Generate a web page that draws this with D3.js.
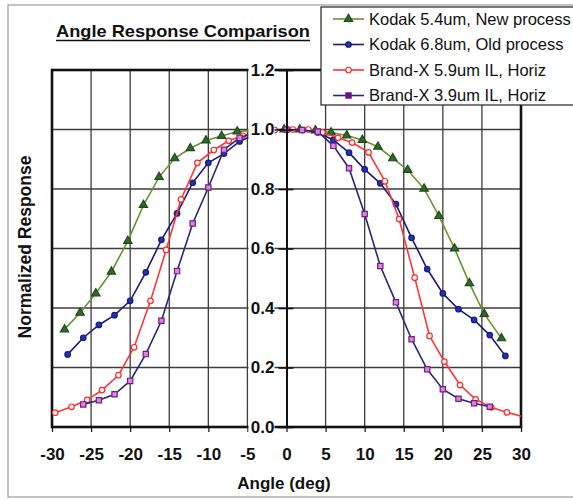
<!DOCTYPE html>
<html>
<head>
<meta charset="utf-8">
<script src="https://cdn.jsdelivr.net/npm/d3@7"></script>
<style>
body { margin: 0; background: #fff; }
text { font-family: Arial, "Liberation Sans", sans-serif; }
</style>
</head>
<body>
<svg id="chart"></svg>
<script>
// tick values
const angleTicks = [-30, -25, -20, -15, -10, -5, 0, 5, 10, 15, 20, 25, 30];
const respTicks = [0, 0.2, 0.4, 0.6, 0.8, 1.0, 1.2];

// Kodak 5.4um, New process
const kodak54Angle = [-28.4, -26.4, -24.4, -22.4, -20.3, -18.3, -16.3, -14.3, -12.3, -10.3, -8.3, -6.3, -4.3, -2.3, -0.3,
    1.7, 3.7, 5.7, 7.7, 9.7, 11.7, 13.6, 15.5, 17.6, 19.5, 21.5, 23.4, 25.3, 27.5];
const kodak54Resp = [0.328, 0.384, 0.449, 0.522, 0.625, 0.746, 0.840, 0.903, 0.937, 0.963, 0.978, 0.993, 0.998, 1.0, 1.0,
    1.0, 0.997, 0.99, 0.98, 0.965, 0.942, 0.903, 0.864, 0.801, 0.709, 0.600, 0.483, 0.380, 0.298];

// Kodak 6.8um, Old process
const kodak68Angle = [-28, -26, -24, -22, -20, -18, -16, -14, -12, -10, -8, -6, -4, -2, 0,
    2, 4, 6, 8, 10, 12, 14, 16, 18, 20, 22, 24, 26, 28];
const kodak68Resp = [0.244, 0.300, 0.343, 0.376, 0.424, 0.520, 0.629, 0.718, 0.821, 0.888, 0.919, 0.960, 0.984, 0.997, 1.0,
    0.998, 0.990, 0.965, 0.922, 0.866, 0.819, 0.749, 0.636, 0.531, 0.449, 0.396, 0.360, 0.309, 0.239];

// Brand-X 5.9um IL, Horiz
const brandX59Angle = [-29.6, -27.5, -25.5, -23.6, -21.5, -19.5, -17.4, -15.4, -13.5, -11.4, -9.3, -7.4, -5.6, -3.5, -1.5,
    0.8, 2.8, 4.6, 6.6, 8.4, 10.5, 12.6, 14.4, 16.4, 18.3, 20.2, 22.2, 24.2, 26.2, 28.2, 30.4];
const brandX59Resp = [0.048, 0.068, 0.091, 0.124, 0.174, 0.268, 0.424, 0.595, 0.765, 0.888, 0.931, 0.962, 0.979, 0.990, 0.998,
    1.0, 1.0, 0.99, 0.972, 0.956, 0.923, 0.826, 0.699, 0.502, 0.306, 0.220, 0.141, 0.093, 0.066, 0.049, 0.034];

// Brand-X 3.9um IL, Horiz
const brandX39Angle = [-26, -24, -22, -20, -18, -16, -14, -12, -10, -8, -6, -4, -2, 0,
    2, 4, 6, 8, 10, 12, 14, 16, 18, 20, 22, 24, 26];
const brandX39Resp = [0.076, 0.090, 0.110, 0.155, 0.245, 0.357, 0.524, 0.684, 0.805, 0.932, 0.972, 0.990, 0.998, 1.0,
    0.998, 0.993, 0.945, 0.870, 0.716, 0.541, 0.419, 0.295, 0.194, 0.127, 0.095, 0.080, 0.068];

const seriesNames = ["Kodak 5.4um, New process", "Kodak 6.8um, Old process", "Brand-X 5.9um IL, Horiz", "Brand-X 3.9um IL, Horiz"];

const W = 573, H = 499;
const plotL = 52, plotR = 521, plotT = 70, plotB = 427;

const series = [
    {name: seriesNames[0], ang: kodak54Angle, val: kodak54Resp, line: "#6a9431", sym: d3.symbolTriangle, size: 30, fill: "#2f6a2a", stroke: "#1f4a1c"},
    {name: seriesNames[1], ang: kodak68Angle, val: kodak68Resp, line: "#1c1c78", sym: d3.symbolCircle, size: 24, fill: "#1f33b8", stroke: "#1c1c78"},
    {name: seriesNames[2], ang: brandX59Angle, val: brandX59Resp, line: "#ff3535", sym: d3.symbolCircle, size: 24, fill: "#fff", stroke: "#ff2a2a"},
    {name: seriesNames[3], ang: brandX39Angle, val: brandX39Resp, line: "#28287a", sym: d3.symbolSquare, size: 28, fill: "#d68ad6", stroke: "#7a1a86"}
];

const svg = d3.select("#chart").attr("width", W).attr("height", H);

// outer frame (scanned page edge)
svg.append("rect").attr("x", 8).attr("y", 5).attr("width", 620).attr("height", 492)
    .attr("fill", "#fff").attr("stroke", "#9a9a9a").attr("stroke-width", 1.2);

const x = d3.scaleLinear().domain([-30, 30]).range([plotL, plotR]);
const y = d3.scaleLinear().domain([0, 1.2]).range([plotB, plotT]);

// grid
svg.append("g").selectAll("line").data(angleTicks.filter(d => d > -30 && d < 30 && d != 0)).enter()
    .append("line")
    .attr("x1", d => x(d)).attr("x2", d => x(d)).attr("y1", plotT).attr("y2", plotB)
    .attr("stroke", "#3c3c3c").attr("stroke-width", 1.3);
svg.append("g").selectAll("line").data(respTicks.filter(d => d > 0 && d < 1.2)).enter()
    .append("line")
    .attr("x1", plotL).attr("x2", plotR).attr("y1", d => y(d)).attr("y2", d => y(d))
    .attr("stroke", "#3c3c3c").attr("stroke-width", 1.3);

// x axis at the bottom (plain hyphen for negatives, like the original)
let xAxis = svg.append("g").attr("transform", `translate(0,${plotB})`)
    .call(d3.axisBottom(x).tickValues(angleTicks).tickFormat(d => String(d)).tickSize(5).tickSizeOuter(0).tickPadding(16));
xAxis.select(".domain").remove();
xAxis.selectAll("line").attr("stroke", "#222").attr("stroke-width", 1.3);
xAxis.selectAll("text").attr("font-size", "17px").attr("font-weight", "bold").attr("fill", "#111")
    .style("font-family", "Arial, 'Liberation Sans', sans-serif");

// plot border
svg.append("rect").attr("x", plotL).attr("y", plotT).attr("width", plotR - plotL).attr("height", plotB - plotT)
    .attr("fill", "none").attr("stroke", "#111").attr("stroke-width", 2.6);

// series
svg.append("clipPath").attr("id", "plotClip").append("rect")
    .attr("x", plotL).attr("y", plotT - 10).attr("width", plotR - plotL).attr("height", plotB - plotT + 10);

const lineFun = d3.line().x(d => x(d[0])).y(d => y(d[1])).curve(d3.curveLinear);
const plot = svg.append("g").attr("clip-path", "url(#plotClip)");

series.forEach(s => {
    let pts = s.ang.map((a, i) => [a, s.val[i]]);
    plot.append("path")
        .attr("d", lineFun(pts))
        .attr("fill", "none")
        .attr("stroke", s.line)
        .attr("stroke-width", 1.6);
    plot.append("g").selectAll("path").data(pts).enter()
        .append("path")
        .attr("d", d3.symbol().type(s.sym).size(s.size))
        .attr("transform", d => `translate(${x(d[0])},${y(d[1])})`)
        .attr("fill", s.fill)
        .attr("stroke", s.stroke)
        .attr("stroke-width", 1.2);
});

// y axis crosses at 0 deg, labels sit on top of the data
let yAxis = svg.append("g").attr("transform", `translate(${x(0)},0)`)
    .call(d3.axisLeft(y).tickValues(respTicks).tickFormat(d3.format(".1f")).tickSize(8).tickSizeOuter(0).tickPadding(4));
yAxis.select(".domain").attr("stroke", "#111").attr("stroke-width", 2);
yAxis.selectAll(".tick line").attr("x1", 7).attr("stroke", "#111").attr("stroke-width", 1.6);
yAxis.selectAll(".tick").insert("rect", "text")
    .attr("x", -38).attr("y", -8).attr("width", 26).attr("height", 16).attr("fill", "#fff");
yAxis.selectAll("text").attr("font-size", "17px").attr("font-weight", "bold").attr("fill", "#111")
    .style("font-family", "Arial, 'Liberation Sans', sans-serif");

// title
svg.append("text").text("Angle Response Comparison")
    .attr("x", 56).attr("y", 37)
    .attr("font-size", "17px").attr("font-weight", "bold").attr("fill", "#111")
    .attr("textLength", 254).attr("lengthAdjust", "spacingAndGlyphs");
svg.append("line").attr("x1", 56).attr("x2", 310).attr("y1", 40.5).attr("y2", 40.5)
    .attr("stroke", "#111").attr("stroke-width", 1.5);

// axis titles
svg.append("text").text("Angle (deg)")
    .attr("x", 284).attr("y", 489)
    .attr("text-anchor", "middle")
    .attr("font-size", "17px").attr("font-weight", "bold").attr("fill", "#111");
svg.append("text").text("Normalized Response")
    .attr("transform", "translate(31,247) rotate(-90)")
    .attr("text-anchor", "middle")
    .attr("font-size", "17.5px").attr("font-weight", "bold").attr("fill", "#111");

// legend
let legend = svg.append("g");
legend.append("rect").attr("x", 321).attr("y", 7).attr("width", 270).attr("height", 98)
    .attr("fill", "#fff").attr("stroke", "#222").attr("stroke-width", 1.2);
series.forEach((s, i) => {
    let ly = 19 + i * 25.5;
    legend.append("line").attr("x1", 333).attr("x2", 364).attr("y1", ly).attr("y2", ly)
        .attr("stroke", s.line).attr("stroke-width", 1.6);
    legend.append("path")
        .attr("d", d3.symbol().type(s.sym).size(s.size))
        .attr("transform", `translate(348.5,${ly})`)
        .attr("fill", i == 3 ? "#5a1a7a" : s.fill).attr("stroke", s.stroke).attr("stroke-width", 1.2);
    legend.append("text").text(s.name)
        .attr("x", 369).attr("y", ly)
        .attr("dy", "0.36em")
        .attr("font-size", "16.5px").attr("fill", "#111");
});
</script>
</body>
</html>
